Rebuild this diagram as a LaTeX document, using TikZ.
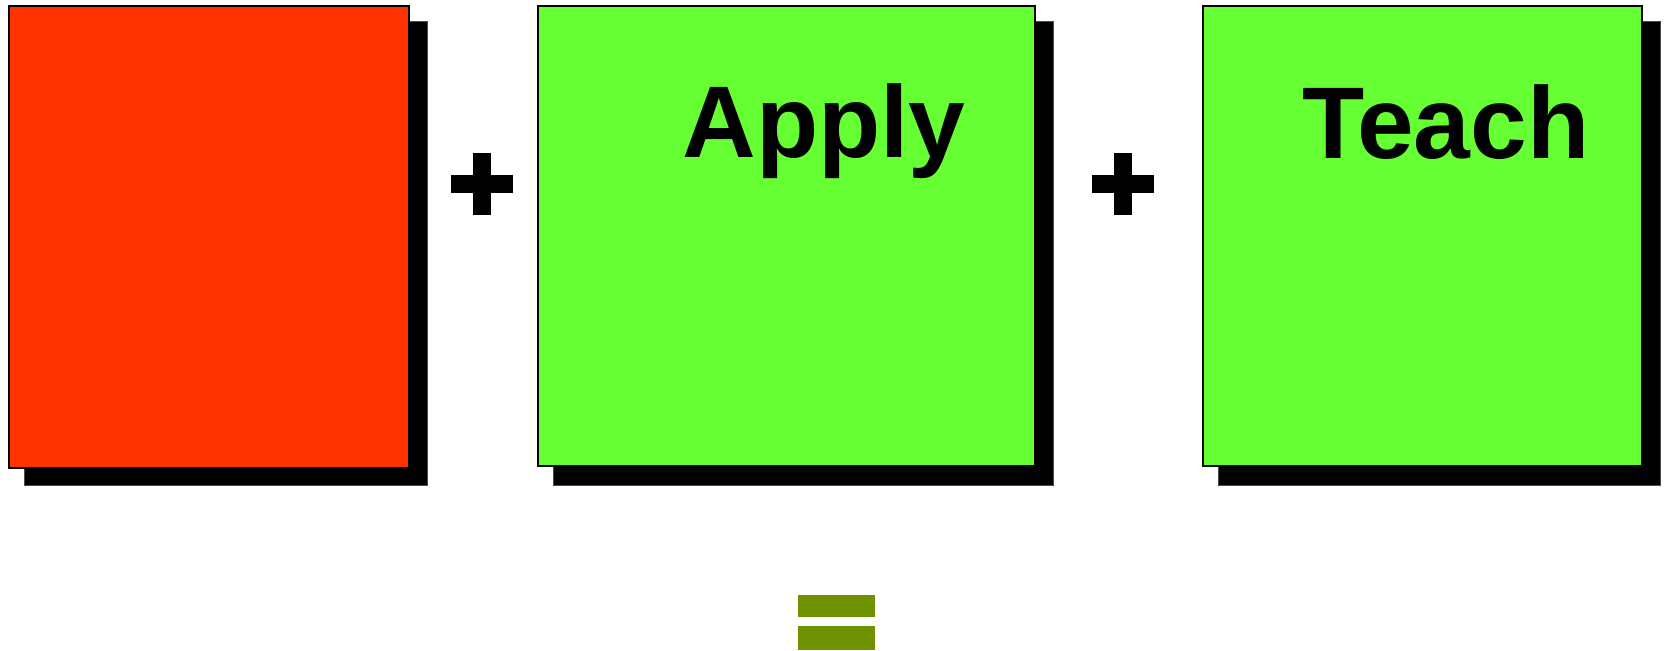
\documentclass[tikz,border=0pt]{standalone}
\usepackage{fontspec}
\setmainfont{Liberation Sans}
\usepackage{tikz}

\definecolor{redcard}{HTML}{FF3300}
\definecolor{greencard}{HTML}{66FF33}
\definecolor{olivebar}{HTML}{6E9200}

\tikzset{
  card/.style={draw=black, line width=0.85pt},
  cardshadow/.style={fill=black, draw=black!70, line width=0.5pt},
  cardlabel/.style={anchor=base, inner sep=0pt, font=\fontsize{58}{60}\selectfont\bfseries},
}

\begin{document}
\begin{tikzpicture}[x=0.02cm, y=-0.02cm]
	\useasboundingbox (0,0) rectangle (1665,650);

	% Shadows
	\draw[cardshadow] (24,21) rectangle (427,485);
	\draw[cardshadow] (553,21) rectangle (1053,485);
	\draw[cardshadow] (1218,21) rectangle (1660,485);

	% Cards
	\draw[card, fill=redcard] (9,6) rectangle (409,468);
	\draw[card, fill=greencard] (538,6) rectangle (1035,466);
	\draw[card, fill=greencard] (1203,6) rectangle (1642,466);

	% Labels
	\node[cardlabel] (apply) at (824,157) {Apply};
	\node[cardlabel] (teach) at (1446,158) {Teach};

	% Plus signs
	\foreach \cx in {482, 1123} {
		\fill (\cx-31,175) rectangle (\cx+31,193);
		\fill (\cx-9,153) rectangle (\cx+9,215);
	}

	% Equals sign
	\fill[olivebar] (798,595) rectangle (875,617);
	\fill[olivebar] (798,626) rectangle (875,650);
\end{tikzpicture}
\end{document}
